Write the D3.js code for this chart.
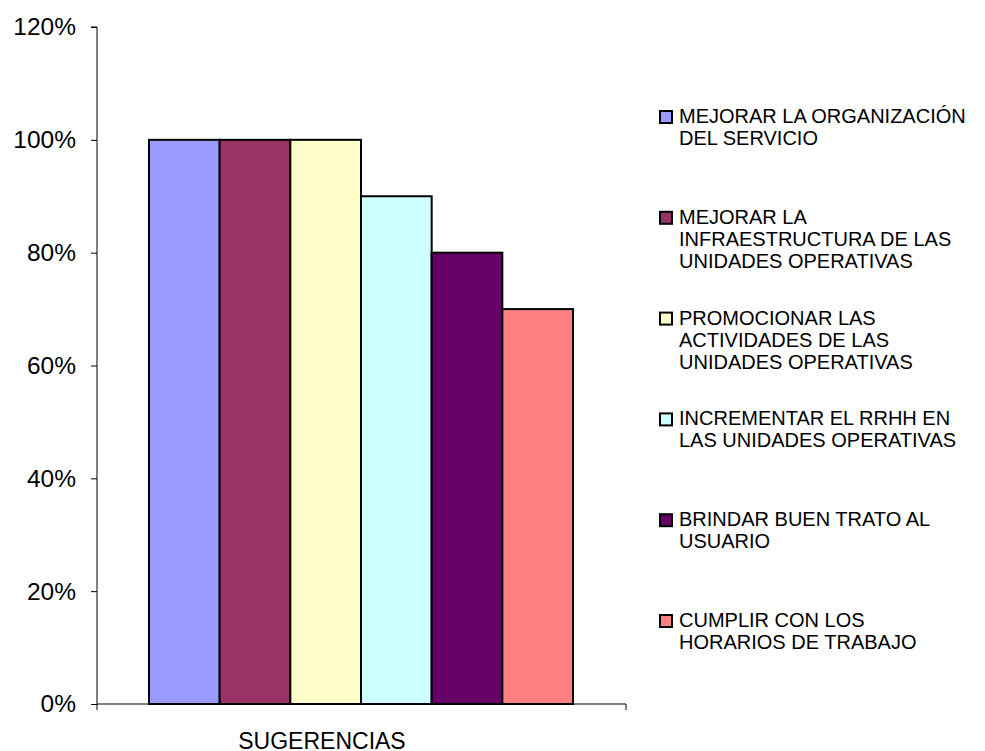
<!DOCTYPE html>
<html><head><meta charset="utf-8">
<script src="https://cdn.jsdelivr.net/npm/d3@7"></script>
<style>body{margin:0;background:#fff}svg{display:block}</style>
</head><body>
<script>
const categories = ["SUGERENCIAS"];
const seriesNames = [
  ["MEJORAR LA ORGANIZACIÓN", "DEL SERVICIO"],
  ["MEJORAR LA", "INFRAESTRUCTURA DE LAS", "UNIDADES OPERATIVAS"],
  ["PROMOCIONAR LAS", "ACTIVIDADES DE LAS", "UNIDADES OPERATIVAS"],
  ["INCREMENTAR EL RRHH EN", "LAS UNIDADES OPERATIVAS"],
  ["BRINDAR BUEN TRATO AL", "USUARIO"],
  ["CUMPLIR CON LOS", "HORARIOS DE TRABAJO"]
];
const seriesValues = [1.0, 1.0, 1.0, 0.9, 0.8, 0.7];
const seriesColors = ["#9999FF", "#993366", "#FFFFCC", "#CCFFFF", "#660066", "#FF8080"];
const yTicks = [0, 0.2, 0.4, 0.6, 0.8, 1.0, 1.2];

const W = 985, H = 751;
const m = {left: 97, top: 27, right: 626, bottom: 704};
const font = "'Liberation Sans', Arial, sans-serif";

const svg = d3.select("body").append("svg").attr("width", W).attr("height", H);

const y = d3.scaleLinear().domain([0, 1.2]).range([m.bottom, m.top]);
const x0 = d3.scaleBand().domain(categories).range([m.left, m.right]).paddingInner(0).paddingOuter(0.1);
const groupX = d3.scaleBand().domain(d3.range(seriesValues.length)).range([149, 573]);

const bars = svg.append("g");
seriesValues.forEach((v, i) => {
  bars.append("rect")
    .attr("x", groupX(i))
    .attr("y", y(v))
    .attr("width", groupX.bandwidth())
    .attr("height", y(0) - y(v))
    .attr("fill", seriesColors[i])
    .attr("stroke", "#000")
    .attr("stroke-width", 2);
});

// Y axis
const yAxis = d3.axisLeft(y).tickValues(yTicks).tickSize(6).tickPadding(15)
  .tickFormat(d => Math.round(d * 100) + "%");
const gy = svg.append("g").attr("transform", `translate(${m.left},0)`).call(yAxis);
gy.select(".domain").attr("stroke", "#000").attr("d", `M-6,${m.top}H0V${m.bottom}`);
gy.selectAll(".tick line").attr("stroke", "#000");
gy.selectAll("text").attr("font-family", font).attr("font-size", 24.5).attr("fill", "#000");

// X axis
const gx = svg.append("g").attr("transform", `translate(0,${m.bottom})`);
gx.append("path").attr("d", `M${m.left},0H${m.right}`).attr("stroke", "#000").attr("fill", "none");
[m.left, m.right].forEach(px => gx.append("line").attr("x1", px).attr("x2", px).attr("y1", 0).attr("y2", 6).attr("stroke", "#000"));
gx.append("text").attr("x", 322).attr("y", 45)
  .attr("text-anchor", "middle").attr("font-family", font).attr("font-size", 23).text(categories[0]);

// Legend
const leg = svg.append("g");
seriesNames.forEach((lines, i) => {
  const by = 123 + i * 100.8;
  leg.append("rect").attr("x", 660).attr("y", by - 12).attr("width", 12).attr("height", 12)
    .attr("fill", seriesColors[i]).attr("stroke", "#000").attr("stroke-width", 2);
  const t = leg.append("text").attr("font-family", font).attr("font-size", 20).attr("fill", "#000");
  lines.forEach((ln, j) => t.append("tspan").attr("x", 679).attr("y", by + j * 22).text(ln));
});
</script>
</body></html>
